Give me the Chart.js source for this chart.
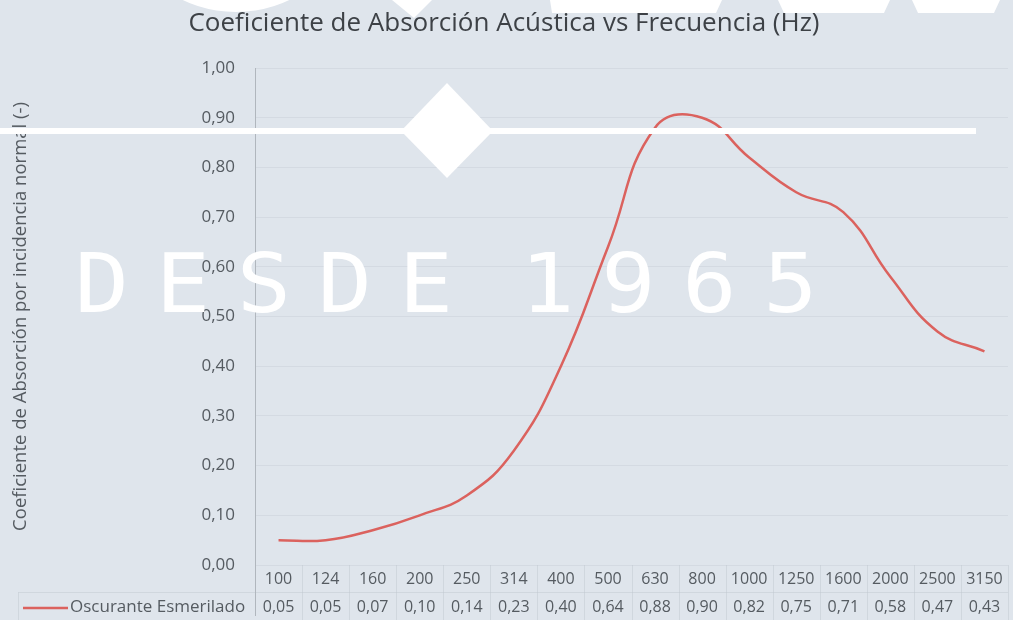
<!DOCTYPE html>
<html>
<head>
<meta charset="utf-8">
<script src="https://cdn.jsdelivr.net/npm/chart.js@4.4.1/dist/chart.umd.min.js"></script>
<style>
  html, body { margin: 0; padding: 0; background: #dfe5ec; }
  #wrap { width: 1013px; height: 620px; position: relative; }
</style>
</head>
<body>
<div id="wrap"><canvas id="myChart"></canvas></div>
<script>
// data
var frecuencias = ["100", "124", "160", "200", "250", "314", "400", "500", "630", "800", "1000", "1250", "1600", "2000", "2500", "3150"];
var oscuranteEsmerilado = [0.05, 0.05, 0.07, 0.10, 0.14, 0.23, 0.40, 0.64, 0.88, 0.90, 0.82, 0.75, 0.71, 0.58, 0.47, 0.43];
var serieNombre = "Oscurante Esmerilado";
var tituloGrafico = "Coeficiente de Absorción Acústica vs Frecuencia (Hz)";
var tituloEjeY = "Coeficiente de Absorción por incidencia normal (-)";
var marcaAgua = "DESDE 1965";

var fondo = "#dfe5ec";
var colorLinea = "#db625e";
var colorTexto = "#555b61";
var colorRejilla = "rgba(196,203,212,0.4)";

function coma(v) {
  return Number(v).toFixed(2).replace(".", ",");
}

// background colour
var fondoPlugin = {
  id: "fondo",
  beforeDraw: function(chart) {
    var ctx = chart.ctx;
    ctx.save();
    ctx.fillStyle = fondo;
    ctx.fillRect(0, 0, chart.width, chart.height);
    ctx.restore();
  }
};

// data table under the plot (Excel style)
var tablaPlugin = {
  id: "tabla",
  afterDraw: function(chart) {
    var ctx = chart.ctx;
    var xs = chart.scales.x;
    var area = chart.chartArea;
    var half = (xs.getPixelForValue(1) - xs.getPixelForValue(0)) / 2;
    var fila1 = area.bottom + 14;
    var fila2 = area.bottom + 42;
    ctx.save();

    // faint grid of the table
    ctx.strokeStyle = "rgba(190,197,206,0.45)";
    ctx.lineWidth = 1;
    ctx.beginPath();
    for (var i = 1; i <= frecuencias.length; i++) {
      var bx = Math.round(xs.getPixelForValue(0) - half + i * half * 2) + 0.5;
      ctx.moveTo(bx, area.bottom);
      ctx.lineTo(bx, chart.height);
    }
    ctx.moveTo(18, area.bottom + 27.5);
    ctx.lineTo(area.right, area.bottom + 27.5);
    ctx.moveTo(18.5, area.bottom + 27.5);
    ctx.lineTo(18.5, chart.height);
    ctx.stroke();

    // y axis line continues through the table
    ctx.strokeStyle = "#b0b6bd";
    ctx.beginPath();
    ctx.moveTo(Math.round(area.left) + 0.5, area.bottom);
    ctx.lineTo(Math.round(area.left) + 0.5, chart.height - 4);
    ctx.stroke();

    ctx.fillStyle = colorTexto;
    ctx.font = "16px 'Open Sans'";
    ctx.textAlign = "center";
    ctx.textBaseline = "middle";
    frecuencias.forEach(function(f, i) {
      var x = xs.getPixelForValue(i);
      ctx.fillText(f, x, fila1);
      ctx.fillText(coma(oscuranteEsmerilado[i]), x, fila2);
    });

    // legend key
    ctx.strokeStyle = colorLinea;
    ctx.lineWidth = 2.5;
    ctx.beginPath();
    ctx.moveTo(23, fila2 + 1);
    ctx.lineTo(68, fila2 + 1);
    ctx.stroke();
    ctx.textAlign = "left";
    ctx.font = "17px 'Open Sans'";
    ctx.fillText(serieNombre, 70, fila2);
    ctx.restore();
  }
};

// watermark over the chart
var marcaPlugin = {
  id: "marca",
  afterDraw: function(chart) {
    var ctx = chart.ctx;
    ctx.save();
    ctx.fillStyle = "#ffffff";

    // white rule and diamond
    ctx.fillRect(0, 128, 976, 6);
    ctx.beginPath();
    ctx.moveTo(447, 83);
    ctx.lineTo(493, 131);
    ctx.lineTo(447, 178);
    ctx.lineTo(401, 131);
    ctx.closePath();
    ctx.fill();

    // bottoms of the big logo letters cut off at the top
    ctx.beginPath();
    ctx.ellipse(236, -66, 100, 78, 0, 0, Math.PI * 2);
    ctx.ellipse(236, -66, 72, 60, 0, 0, Math.PI * 2);
    ctx.fill("evenodd");
    ctx.beginPath();
    ctx.moveTo(392, 0); ctx.lineTo(432, 0); ctx.lineTo(414, 18); ctx.closePath();
    ctx.fill();
    ctx.beginPath();
    ctx.moveTo(550, 0); ctx.lineTo(722, 0); ctx.lineTo(716, 13); ctx.lineTo(552, 13); ctx.closePath();
    ctx.fill();
    ctx.beginPath();
    ctx.moveTo(778, 0); ctx.lineTo(890, 0); ctx.lineTo(884, 13); ctx.lineTo(784, 13); ctx.closePath();
    ctx.fill();
    ctx.beginPath();
    ctx.moveTo(912, 0); ctx.lineTo(1000, 0); ctx.lineTo(994, 13); ctx.lineTo(918, 13); ctx.closePath();
    ctx.fill();

    // "DESDE 1965" spaced monospace text
    ctx.font = "82px 'DejaVu Sans Mono'";
    ctx.textAlign = "center";
    ctx.textBaseline = "alphabetic";
    var pasos = [0, 2, 4, 6, 8, 11, 13, 15, 17];
    var letras = marcaAgua.replace(" ", "").split("");
    letras.forEach(function(c, i) {
      ctx.save();
      var cx = 102 + pasos[i] * 40.5;
      ctx.translate(cx, 312);
      ctx.scale(1.1, 1);
      ctx.fillText(c, 0, 0);
      ctx.restore();
    });
    ctx.restore();
  }
};

new Chart("myChart", {
  type: "line",
  data: {
    labels: frecuencias,
    datasets: [{
      label: serieNombre,
      data: oscuranteEsmerilado,
      borderColor: colorLinea,
      backgroundColor: colorLinea,
      borderWidth: 2.5,
      pointRadius: 0,
      tension: 0.45,
      fill: false
    }]
  },
  options: {
    responsive: true,
    maintainAspectRatio: false,
    animation: false,
    layout: { padding: { left: 0, right: 5, top: 0, bottom: 55 } },
    plugins: {
      legend: { display: false },
      tooltip: { enabled: false },
      title: {
        display: true,
        text: tituloGrafico,
        color: "#3d4146",
        font: { family: "'Open Sans'", size: 26, weight: "normal" },
        padding: { top: 8, bottom: 28.8 }
      }
    },
    scales: {
      x: {
        type: "category",
        offset: true,
        grid: { display: false, drawTicks: false },
        border: { display: false },
        ticks: { display: false },
        afterFit: function(s) { s.height = 0; }
      },
      y: {
        min: 0,
        max: 1,
        ticks: {
          stepSize: 0.1,
          padding: 20,
          color: colorTexto,
          font: { family: "'Open Sans'", size: 17 },
          callback: function(v) { return coma(v); }
        },
        grid: { color: colorRejilla, drawTicks: false },
        border: { color: "#b0b6bd" },
        title: {
          display: true,
          text: tituloEjeY,
          color: colorTexto,
          font: { family: "'Open Sans'", size: 18.5 },
          padding: { top: 10, bottom: 0 }
        },
        afterFit: function(s) { s.width = 255; }
      }
    }
  },
  plugins: [fondoPlugin, tablaPlugin, marcaPlugin]
});
</script>
</body>
</html>
